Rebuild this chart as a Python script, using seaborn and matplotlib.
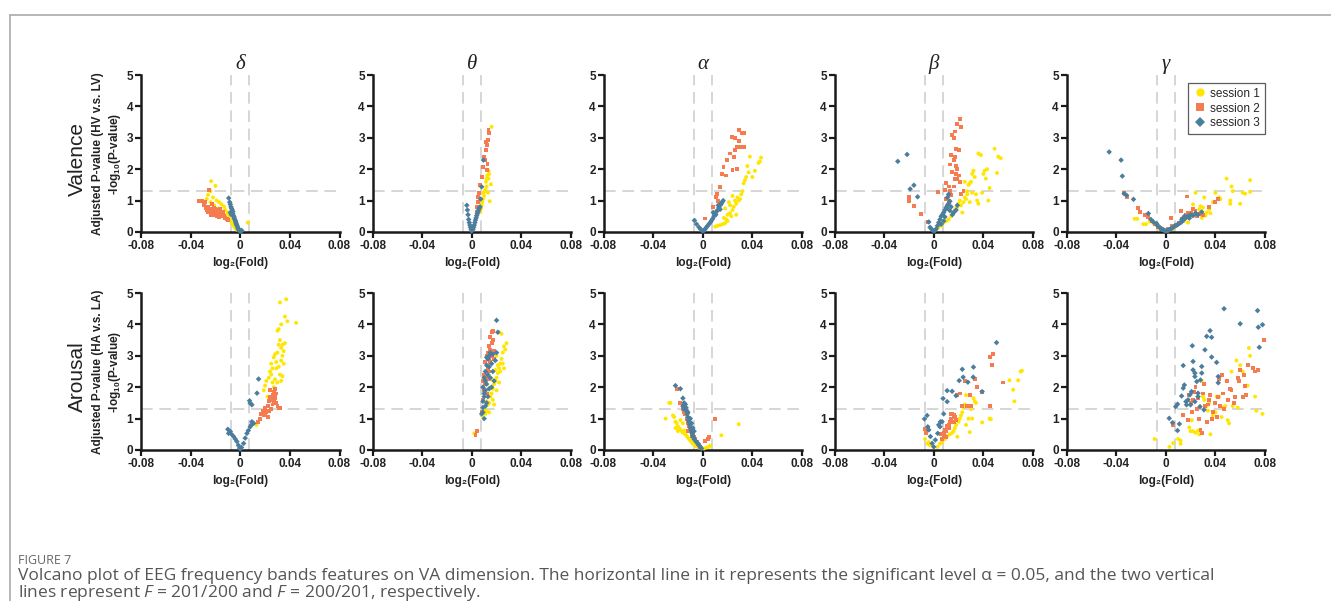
import numpy as np
import pandas as pd
import matplotlib.pyplot as plt
from matplotlib.lines import Line2D
import seaborn as sns

# ---- data: (log2 fold, -log10 p) ----
BANDS = ["δ", "θ", "α", "β", "γ"]
DIMS = ["Valence", "Arousal"]
SESSIONS = ["session 1", "session 2", "session 3"]
COLORS = ["#FFE600", "#F47C50", "#4B7D9C"]

VAL_DELTA_S1 = [(-0.0235, 1.62), (-0.020, 1.47), (-0.024, 1.30), (-0.026, 1.18), (-0.022, 1.10), (-0.019, 1.00),
                (-0.017, 0.95), (-0.015, 0.88), (-0.013, 0.80), (-0.024, 0.95), (-0.027, 1.05), (-0.012, 0.70),
                (-0.010, 0.62), (-0.011, 0.55), (-0.009, 0.45), (-0.008, 0.40), (-0.007, 0.30), (-0.006, 0.25),
                (-0.005, 0.18), (-0.004, 0.12), (-0.016, 0.62), (-0.014, 0.55), (-0.018, 0.75), (-0.021, 0.85),
                (0.006, 0.30), (-0.003, 0.08), (-0.009, 0.55), (-0.012, 0.48)]
VAL_DELTA_S2 = [(-0.033, 1.00), (-0.031, 0.98), (-0.025, 1.35), (-0.029, 0.85), (-0.028, 0.75), (-0.027, 0.70),
                (-0.026, 0.80), (-0.025, 0.65), (-0.024, 0.72), (-0.023, 0.60), (-0.022, 0.68), (-0.021, 0.55),
                (-0.020, 0.62), (-0.019, 0.70), (-0.018, 0.58), (-0.017, 0.65), (-0.016, 0.52), (-0.015, 0.60),
                (-0.014, 0.55), (-0.013, 0.50), (-0.012, 0.45), (-0.023, 0.90), (-0.021, 0.78), (-0.019, 0.50),
                (-0.017, 0.48), (-0.024, 0.55), (-0.020, 0.72), (-0.018, 0.66), (-0.022, 0.58), (-0.026, 0.62),
                (-0.028, 0.95), (-0.016, 0.72), (-0.014, 0.65), (-0.011, 0.40), (-0.010, 0.38)]
VAL_DELTA_S3 = [(-0.0093, 1.08), (-0.0085, 0.95), (-0.008, 0.88), (-0.0075, 0.80), (-0.007, 0.75), (-0.0065, 0.70),
                (-0.006, 0.65), (-0.006, 0.58), (-0.0055, 0.52), (-0.005, 0.48), (-0.0048, 0.44), (-0.0045, 0.40),
                (-0.004, 0.36), (-0.0037, 0.32), (-0.0033, 0.28), (-0.003, 0.24), (-0.0026, 0.20), (-0.0022, 0.16),
                (-0.0018, 0.12), (-0.0014, 0.09), (-0.001, 0.06), (-0.0005, 0.04), (0.0, 0.02), (0.0008, 0.03),
                (0.0012, 0.05), (-0.008, 0.62), (-0.0072, 0.55)]

VAL_THETA_S1 = [(0.016, 3.35), (0.014, 1.85), (0.0125, 1.80), (0.0135, 1.70), (0.0115, 1.60), (0.012, 1.45),
                (0.0155, 1.52), (0.011, 1.35), (0.0095, 1.25), (0.010, 1.15), (0.009, 1.05), (0.0085, 0.95),
                (0.008, 0.85), (0.0145, 0.98), (0.013, 1.25), (0.0105, 1.30), (0.0075, 0.75), (0.007, 0.65),
                (0.012, 1.70), (0.0135, 1.95)]
VAL_THETA_S2 = [(0.004, 0.80), (0.0054, 1.12), (0.0067, 1.49), (0.008, 1.75), (0.0094, 2.07), (0.010, 2.40),
                (0.0113, 2.60), (0.012, 2.77), (0.013, 2.93), (0.0137, 3.14), (0.0135, 3.24), (0.0113, 2.87),
                (0.012, 1.97), (0.011, 2.29), (0.0127, 2.18), (0.005, 0.95), (0.006, 1.25), (0.0045, 0.65)]
VAL_THETA_S3 = [(-0.004, 0.85), (-0.0035, 0.70), (-0.003, 0.55), (-0.0025, 0.40), (-0.002, 0.30), (-0.0015, 0.22),
                (-0.001, 0.15), (-0.0005, 0.08), (0.0, 0.03), (0.001, 0.08), (0.0015, 0.15), (0.002, 0.22),
                (0.0025, 0.30), (0.003, 0.38), (0.0035, 0.45), (0.004, 0.52), (0.0045, 0.58), (0.005, 0.64),
                (0.0055, 0.70), (0.006, 0.76), (0.0067, 0.80), (0.008, 1.44), (0.0094, 2.29), (0.0072, 1.05)]

VAL_ALPHA_S1 = [(0.010, 0.17), (0.012, 0.20), (0.014, 0.22), (0.016, 0.25), (0.018, 0.28), (0.020, 0.35),
                (0.017, 0.45), (0.020, 0.55), (0.022, 0.60), (0.024, 0.70), (0.022, 0.85), (0.025, 0.80),
                (0.027, 0.90), (0.026, 1.00), (0.028, 1.10), (0.030, 1.05), (0.031, 1.20), (0.032, 1.30),
                (0.029, 1.00), (0.033, 1.55), (0.035, 1.75), (0.037, 1.90), (0.034, 1.65), (0.036, 2.10),
                (0.038, 2.40), (0.040, 1.75), (0.042, 1.95), (0.045, 2.20), (0.047, 2.37), (0.046, 2.25),
                (0.023, 0.50), (0.019, 0.40), (0.018, 0.75), (0.021, 0.95), (0.024, 1.15), (0.027, 0.55)]
VAL_ALPHA_S2 = [(0.002, 0.43), (0.0086, 0.80), (0.0113, 1.22), (0.014, 1.44), (0.0154, 1.86), (0.0167, 2.07),
                (0.0194, 2.29), (0.022, 2.50), (0.0234, 3.03), (0.026, 2.98), (0.0275, 2.71), (0.029, 3.24),
                (0.030, 2.71), (0.0315, 3.14), (0.033, 3.16), (0.024, 1.97), (0.0275, 2.00), (0.019, 1.80),
                (0.033, 2.71), (0.026, 2.60), (0.025, 2.40), (0.029, 2.90), (0.012, 1.00), (0.0105, 1.10)]
VAL_ALPHA_S3 = [(-0.0067, 0.37), (-0.005, 0.25), (-0.003, 0.15), (-0.0015, 0.08), (0.0, 0.03), (0.001, 0.05),
                (0.002, 0.10), (0.003, 0.15), (0.004, 0.20), (0.005, 0.25), (0.006, 0.30), (0.007, 0.36),
                (0.008, 0.42), (0.009, 0.50), (0.0095, 0.55), (0.010, 0.60), (0.011, 0.65), (0.012, 0.70),
                (0.013, 0.78), (0.014, 0.85), (0.015, 0.90), (0.0165, 1.00), (0.0155, 0.95), (0.0105, 0.55),
                (0.0085, 0.62), (0.0125, 0.85), (0.014, 0.72)]

VAL_BETA_S1 = [(0.004, 0.15), (0.006, 0.20), (0.008, 0.30), (0.010, 0.35), (0.012, 0.40), (0.014, 0.50),
               (0.016, 0.60), (0.017, 0.70), (0.018, 0.75), (0.019, 0.80), (0.020, 0.90), (0.021, 1.00),
               (0.022, 0.85), (0.023, 0.62), (0.024, 0.95), (0.025, 1.10), (0.026, 1.05), (0.027, 1.20),
               (0.028, 1.50), (0.029, 1.55), (0.030, 1.60), (0.031, 1.85), (0.032, 1.95), (0.033, 1.75),
               (0.034, 1.20), (0.035, 1.00), (0.036, 0.90), (0.036, 2.50), (0.038, 2.45), (0.039, 1.25),
               (0.040, 1.85), (0.041, 1.95), (0.042, 1.70), (0.043, 2.00), (0.044, 1.00), (0.045, 1.40),
               (0.049, 2.65), (0.051, 1.88), (0.052, 2.40), (0.054, 2.35), (0.029, 0.95), (0.031, 1.25),
               (0.025, 1.60), (0.027, 1.30)]
VAL_BETA_S2 = [(-0.020, 1.12), (-0.020, 0.98), (-0.016, 0.82), (-0.010, 0.58), (-0.0046, 0.32), (0.0032, 1.28),
               (0.009, 1.35), (0.010, 1.55), (0.012, 1.45), (0.013, 1.30), (0.014, 1.18), (0.015, 1.90),
               (0.016, 2.30), (0.017, 2.40), (0.018, 2.10), (0.019, 2.00), (0.020, 2.60), (0.018, 2.65),
               (0.017, 1.70), (0.019, 1.70), (0.021, 1.60), (0.022, 1.20), (0.016, 3.00), (0.017, 3.20),
               (0.019, 3.45), (0.021, 3.60), (0.022, 3.35), (0.015, 3.10), (0.024, 1.30), (0.013, 2.15),
               (0.012, 1.00), (0.020, 1.80), (0.018, 1.85), (0.016, 1.45), (0.014, 2.45), (0.010, 1.05)]
VAL_BETA_S3 = [(-0.029, 2.25), (-0.0215, 2.47), (-0.016, 1.49), (-0.019, 1.37), (-0.013, 1.12), (-0.004, 0.32),
               (-0.003, 0.15), (-0.002, 0.10), (0.0, 0.03), (0.001, 0.05), (0.002, 0.10), (0.003, 0.20),
               (0.004, 0.30), (0.005, 0.40), (0.006, 0.50), (0.007, 0.55), (0.008, 0.62), (0.009, 0.70),
               (0.010, 0.78), (0.011, 0.85), (0.012, 0.90), (0.013, 0.98), (0.011, 1.10), (0.012, 1.20),
               (0.0105, 0.75), (0.014, 0.80), (0.016, 0.62), (0.018, 0.70), (0.019, 0.85), (0.015, 0.55),
               (0.008, 0.35), (0.006, 0.25), (0.009, 0.48), (0.013, 0.68)]

VAL_GAMMA_S1 = [(-0.025, 0.42), (-0.023, 0.42), (-0.018, 0.25), (-0.016, 0.25), (-0.013, 0.33), (-0.010, 0.28),
                (-0.005, 0.10), (0.002, 0.05), (0.006, 0.10), (0.008, 0.22), (0.012, 0.30), (0.015, 0.35),
                (0.018, 0.30), (0.020, 0.50), (0.022, 0.88), (0.024, 1.25), (0.025, 0.55), (0.027, 0.72),
                (0.028, 0.82), (0.030, 0.78), (0.031, 1.10), (0.033, 0.62), (0.035, 0.72), (0.038, 0.95),
                (0.040, 1.25), (0.043, 1.10), (0.044, 1.05), (0.049, 1.70), (0.052, 0.90), (0.053, 1.45),
                (0.054, 1.30), (0.052, 1.00), (0.060, 0.90), (0.062, 1.25), (0.064, 1.22), (0.068, 1.65),
                (0.068, 1.28), (0.036, 0.60), (0.029, 0.45), (0.032, 0.52)]
VAL_GAMMA_S2 = [(-0.034, 1.25), (-0.031, 1.10), (-0.022, 0.75), (-0.021, 0.65), (-0.017, 0.55), (-0.014, 0.48),
                (-0.011, 0.35), (-0.009, 0.25), (-0.006, 0.15), (-0.004, 0.10), (-0.002, 0.08), (0.002, 0.10),
                (0.004, 0.45), (0.005, 0.20), (0.008, 0.22), (0.011, 0.30), (0.013, 0.40), (0.016, 0.55),
                (0.018, 0.60), (0.020, 0.62), (0.022, 0.72), (0.024, 0.68), (0.027, 0.58), (0.030, 0.55),
                (0.035, 0.80), (0.040, 0.95), (0.042, 1.05), (0.017, 1.13), (0.012, 0.68), (0.025, 0.50)]
VAL_GAMMA_S3 = [(-0.0456, 2.55), (-0.036, 2.29), (-0.035, 1.78), (-0.0335, 1.22), (-0.0316, 1.17), (-0.026, 1.04),
                (-0.014, 0.59), (-0.0074, 0.27), (-0.007, 0.22), (-0.006, 0.18), (-0.005, 0.15), (-0.004, 0.12),
                (-0.003, 0.09), (-0.002, 0.07), (-0.001, 0.05), (0.0, 0.03), (0.001, 0.04), (0.002, 0.06),
                (0.003, 0.08), (0.004, 0.10), (0.005, 0.12), (0.006, 0.15), (0.007, 0.18), (0.008, 0.20),
                (0.009, 0.22), (0.010, 0.25), (0.011, 0.28), (0.012, 0.30), (0.013, 0.33), (0.014, 0.38),
                (0.015, 0.42), (0.016, 0.45), (0.017, 0.48), (0.018, 0.50), (0.019, 0.44), (0.020, 0.55),
                (0.022, 0.52), (0.024, 0.60), (0.026, 0.55), (0.029, 0.64), (0.015, 0.50), (0.013, 0.40),
                (-0.012, 0.40), (-0.010, 0.32)]

ARO_DELTA_S1 = [(0.013, 0.80), (0.019, 1.90), (0.020, 2.05), (0.021, 2.20), (0.022, 1.70), (0.023, 2.30),
                (0.024, 2.50), (0.025, 2.75), (0.026, 2.60), (0.027, 2.95), (0.028, 3.05), (0.029, 2.80),
                (0.030, 3.10), (0.031, 3.35), (0.032, 3.50), (0.033, 3.25), (0.034, 3.35), (0.031, 2.65),
                (0.029, 2.60), (0.032, 2.40), (0.033, 2.20), (0.034, 2.35), (0.035, 2.75), (0.030, 3.80),
                (0.031, 3.85), (0.033, 4.00), (0.032, 4.70), (0.037, 4.80), (0.036, 4.25), (0.038, 4.10),
                (0.045, 4.05), (0.028, 2.25), (0.027, 2.00), (0.030, 2.15), (0.034, 3.00), (0.035, 3.15),
                (0.036, 3.40), (0.025, 2.40), (0.026, 2.15), (0.033, 2.85)]
ARO_DELTA_S2 = [(0.014, 0.88), (0.016, 1.00), (0.017, 1.15), (0.018, 1.25), (0.019, 1.10), (0.020, 1.35),
                (0.021, 1.20), (0.022, 1.40), (0.023, 1.55), (0.024, 1.70), (0.025, 1.60), (0.026, 1.75),
                (0.027, 1.85), (0.028, 1.65), (0.029, 1.50), (0.030, 1.40), (0.031, 1.35), (0.026, 1.45),
                (0.024, 1.90), (0.027, 1.55), (0.022, 1.05), (0.025, 1.30), (0.028, 1.95), (0.029, 1.80),
                (0.023, 1.25), (0.020, 1.15), (0.032, 1.35), (0.026, 1.65), (0.024, 1.60), (0.028, 1.70)]
ARO_DELTA_S3 = [(-0.010, 0.66), (-0.0094, 0.53), (-0.008, 0.59), (-0.007, 0.50), (-0.0054, 0.43), (-0.004, 0.35),
                (-0.0027, 0.27), (-0.0015, 0.15), (-0.0005, 0.06), (0.0, 0.03), (0.001, 0.08), (0.0027, 0.21),
                (0.004, 0.38), (0.0054, 0.53), (0.0065, 0.62), (0.008, 0.74), (0.0094, 0.90), (0.0108, 0.85),
                (0.008, 1.49), (0.0094, 1.44), (0.0075, 1.57), (0.0148, 2.26), (0.0135, 1.81), (0.009, 0.80)]

ARO_THETA_S1 = [(0.002, 0.53), (0.008, 1.10), (0.009, 1.20), (0.010, 1.30), (0.012, 1.25), (0.013, 1.45),
                (0.014, 1.50), (0.015, 1.70), (0.016, 1.80), (0.017, 1.95), (0.018, 2.10), (0.019, 2.20),
                (0.020, 2.30), (0.021, 2.45), (0.022, 2.60), (0.023, 2.75), (0.024, 2.90), (0.025, 3.10),
                (0.026, 3.30), (0.027, 3.20), (0.028, 3.40), (0.022, 3.75), (0.024, 3.70), (0.020, 3.00),
                (0.021, 2.70), (0.023, 2.50), (0.019, 2.55), (0.017, 1.60), (0.018, 1.45), (0.016, 2.25),
                (0.015, 2.00), (0.014, 1.20), (0.011, 1.15), (0.013, 1.80), (0.025, 2.75), (0.022, 2.15),
                (0.026, 2.60), (0.020, 1.90), (0.012, 1.55)]
ARO_THETA_S2 = [(0.003, 0.48), (0.004, 0.60), (0.008, 1.20), (0.009, 1.60), (0.010, 1.90), (0.011, 2.10),
                (0.012, 2.35), (0.013, 2.60), (0.014, 2.90), (0.015, 3.20), (0.016, 3.40), (0.017, 3.80),
                (0.016, 3.75), (0.012, 3.00), (0.013, 3.10), (0.014, 3.30), (0.015, 2.80), (0.016, 3.00),
                (0.018, 3.15), (0.017, 3.50), (0.011, 2.80), (0.010, 2.40), (0.009, 2.20), (0.012, 1.80),
                (0.013, 2.25), (0.014, 2.50), (0.015, 3.60), (0.018, 2.90)]
ARO_THETA_S3 = [(0.008, 1.15), (0.009, 1.20), (0.010, 1.00), (0.011, 1.40), (0.009, 1.55), (0.010, 1.70),
                (0.011, 1.90), (0.012, 2.10), (0.009, 2.00), (0.010, 2.30), (0.011, 2.50), (0.012, 2.70),
                (0.013, 2.90), (0.014, 3.00), (0.015, 3.10), (0.016, 2.75), (0.017, 2.50), (0.018, 2.20),
                (0.019, 2.85), (0.020, 3.10), (0.021, 3.75), (0.020, 4.13), (0.013, 2.40), (0.014, 2.65),
                (0.012, 2.95), (0.015, 2.30), (0.016, 2.00), (0.011, 2.20), (0.010, 1.80), (0.013, 1.70),
                (0.017, 3.05), (0.014, 1.95), (0.009, 1.35), (0.012, 1.50)]

ARO_ALPHA_S1 = [(-0.030, 1.00), (-0.027, 1.50), (-0.026, 1.50), (-0.024, 1.10), (-0.023, 1.05), (-0.022, 0.90),
                (-0.021, 0.85), (-0.020, 0.75), (-0.019, 0.70), (-0.018, 0.65), (-0.017, 0.60), (-0.016, 0.55),
                (-0.015, 0.62), (-0.014, 0.50), (-0.013, 0.45), (-0.012, 0.40), (-0.011, 0.35), (-0.010, 0.30),
                (-0.009, 0.25), (-0.008, 0.20), (-0.007, 0.18), (-0.006, 0.14), (-0.005, 0.12), (-0.004, 0.10),
                (-0.003, 0.08), (0.001, 0.05), (0.003, 0.08), (0.005, 0.10), (0.006, 0.14), (0.015, 0.47),
                (0.029, 0.82), (-0.018, 0.95), (-0.016, 0.85), (-0.020, 0.60), (-0.022, 0.70)]
ARO_ALPHA_S2 = [(-0.021, 1.95), (-0.018, 1.50), (-0.016, 1.30), (-0.015, 1.20), (-0.014, 1.15), (-0.013, 1.00),
                (-0.012, 0.85), (-0.011, 0.75), (-0.010, 0.65), (-0.009, 0.55), (-0.008, 0.50), (-0.007, 0.40),
                (-0.006, 0.35), (-0.005, 0.25), (-0.004, 0.20), (-0.003, 0.15), (-0.002, 0.10), (0.002, 0.30),
                (0.004, 0.35), (0.005, 0.40), (0.010, 1.00), (-0.012, 0.60), (-0.009, 0.45)]
ARO_ALPHA_S3 = [(-0.022, 2.05), (-0.018, 1.95), (-0.016, 1.65), (-0.015, 1.50), (-0.014, 1.45), (-0.0135, 1.35),
                (-0.013, 1.25), (-0.0125, 1.15), (-0.012, 1.05), (-0.0115, 0.95), (-0.011, 0.88), (-0.0105, 0.80),
                (-0.010, 0.72), (-0.0095, 0.65), (-0.009, 0.58), (-0.0085, 0.52), (-0.008, 0.45), (-0.0075, 0.40),
                (-0.007, 0.35), (-0.006, 0.30), (-0.005, 0.25), (-0.004, 0.20), (-0.003, 0.15), (-0.002, 0.10),
                (-0.001, 0.05), (-0.016, 1.40), (-0.015, 1.30), (-0.012, 1.20), (-0.010, 1.00), (-0.009, 0.85),
                (-0.008, 0.70), (-0.007, 0.60)]

ARO_BETA_S1 = [(-0.007, 0.35), (-0.005, 0.20), (-0.003, 0.15), (-0.004, 0.25), (0.003, 0.10), (0.005, 0.20),
               (0.007, 0.25), (0.009, 0.35), (0.011, 0.45), (0.013, 0.50), (0.015, 0.55), (0.016, 0.60),
               (0.017, 0.70), (0.018, 0.80), (0.019, 0.42), (0.020, 0.90), (0.021, 1.00), (0.022, 1.10),
               (0.023, 1.20), (0.024, 1.35), (0.026, 1.75), (0.028, 1.00), (0.029, 0.57), (0.030, 1.30),
               (0.031, 1.00), (0.033, 1.55), (0.034, 1.50), (0.039, 0.88), (0.045, 1.00), (0.046, 0.98),
               (0.061, 2.22), (0.064, 1.92), (0.065, 1.55), (0.068, 2.22), (0.070, 2.50), (0.071, 2.52),
               (0.032, 1.65), (0.026, 0.80), (0.025, 1.45)]
ARO_BETA_S2 = [(-0.0067, 0.66), (-0.006, 0.55), (0.006, 0.50), (0.008, 0.55), (0.009, 0.65), (0.010, 0.60),
               (0.011, 0.75), (0.012, 0.80), (0.013, 0.90), (0.014, 1.00), (0.015, 1.15), (0.016, 1.10),
               (0.017, 1.05), (0.018, 0.95), (0.019, 1.75), (0.021, 1.80), (0.023, 1.40), (0.025, 2.20),
               (0.027, 1.40), (0.029, 1.75), (0.030, 1.40), (0.033, 2.25), (0.035, 2.00), (0.039, 1.85),
               (0.045, 1.40), (0.045, 2.95), (0.047, 2.70), (0.048, 3.05), (0.056, 2.15), (0.014, 1.15),
               (0.012, 0.70), (0.010, 0.40), (0.007, 0.35), (0.008, 0.45), (0.016, 0.90), (-0.005, 0.70)]
ARO_BETA_S3 = [(-0.0075, 0.99), (-0.0054, 1.10), (-0.0048, 0.74), (-0.004, 0.64), (-0.0027, 0.43), (-0.0013, 0.21),
               (0.0, 0.10), (0.0013, 0.32), (0.0032, 0.53), (0.004, 0.80), (0.005, 0.74), (0.0054, 0.90),
               (0.0067, 0.90), (0.008, 1.15), (0.0075, 1.64), (0.0108, 1.54), (0.0108, 1.89), (0.0148, 1.87),
               (0.018, 1.73), (0.0205, 2.21), (0.0237, 2.32), (0.023, 2.57), (0.0275, 2.16), (0.0318, 2.32),
               (0.032, 2.64), (0.039, 1.86), (0.0506, 3.42)]

ARO_GAMMA_S1 = [(-0.009, 0.35), (0.003, 0.10), (0.006, 0.22), (0.010, 0.35), (0.012, 0.30), (0.012, 0.20),
                (0.019, 0.72), (0.020, 0.60), (0.021, 0.95), (0.022, 0.60), (0.024, 0.55), (0.026, 0.62),
                (0.027, 0.50), (0.029, 2.20), (0.030, 1.70), (0.031, 1.60), (0.033, 1.40), (0.035, 1.50),
                (0.036, 0.50), (0.038, 1.10), (0.040, 1.20), (0.041, 1.70), (0.043, 1.70), (0.045, 1.05),
                (0.048, 1.40), (0.049, 2.20), (0.050, 0.95), (0.051, 0.85), (0.053, 2.50), (0.054, 1.40),
                (0.057, 2.85), (0.058, 1.35), (0.060, 2.70), (0.062, 2.50), (0.066, 2.05), (0.067, 3.25),
                (0.068, 3.00), (0.072, 1.70), (0.073, 1.25), (0.078, 1.15), (0.034, 1.25), (0.046, 1.35)]
ARO_GAMMA_S2 = [(0.006, 0.80), (0.014, 1.10), (0.018, 0.95), (0.019, 1.75), (0.020, 1.50), (0.022, 1.60),
                (0.023, 1.85), (0.024, 2.00), (0.025, 1.30), (0.027, 1.00), (0.028, 0.65), (0.029, 0.55),
                (0.030, 1.80), (0.031, 2.10), (0.032, 1.40), (0.033, 0.90), (0.035, 1.60), (0.036, 1.75),
                (0.037, 1.00), (0.038, 1.20), (0.040, 1.50), (0.042, 1.70), (0.043, 2.25), (0.045, 2.40),
                (0.046, 1.80), (0.047, 1.30), (0.049, 2.20), (0.050, 1.60), (0.052, 1.95), (0.053, 1.90),
                (0.055, 1.50), (0.056, 1.70), (0.058, 2.30), (0.059, 2.20), (0.060, 2.55), (0.062, 1.70),
                (0.063, 2.40), (0.064, 2.05), (0.065, 1.75), (0.066, 2.70), (0.070, 2.60), (0.072, 2.50),
                (0.074, 2.55), (0.079, 3.50), (0.021, 1.20), (0.026, 1.65), (0.034, 1.45), (0.041, 1.05),
                (0.044, 1.40)]
ARO_GAMMA_S3 = [(0.0028, 1.01), (0.0055, 0.87), (0.0095, 0.62), (0.011, 0.83), (0.008, 1.38), (0.0095, 1.46),
                (0.0128, 1.72), (0.0141, 2.69), (0.0141, 1.97), (0.015, 2.07), (0.0163, 1.54), (0.018, 1.60),
                (0.0168, 1.44), (0.0195, 1.76), (0.0208, 1.86), (0.0214, 3.32), (0.022, 2.82), (0.022, 2.55),
                (0.0235, 2.45), (0.0235, 2.34), (0.025, 2.18), (0.026, 1.81), (0.029, 2.45), (0.029, 2.66),
                (0.028, 2.23), (0.0276, 1.38), (0.0316, 3.19), (0.033, 3.62), (0.0357, 3.80), (0.037, 3.59),
                (0.037, 2.96), (0.041, 2.79), (0.0423, 2.34), (0.0423, 2.14), (0.047, 4.50), (0.060, 4.02),
                (0.074, 4.44), (0.0746, 3.91), (0.078, 3.99), (0.0754, 3.27), (0.0308, 1.28), (0.0235, 1.54),
                (0.020, 1.44), (0.026, 1.70)]

PANEL_DATA = {
    ("Valence", "δ"): [VAL_DELTA_S1, VAL_DELTA_S2, VAL_DELTA_S3],
    ("Valence", "θ"): [VAL_THETA_S1, VAL_THETA_S2, VAL_THETA_S3],
    ("Valence", "α"): [VAL_ALPHA_S1, VAL_ALPHA_S2, VAL_ALPHA_S3],
    ("Valence", "β"): [VAL_BETA_S1, VAL_BETA_S2, VAL_BETA_S3],
    ("Valence", "γ"): [VAL_GAMMA_S1, VAL_GAMMA_S2, VAL_GAMMA_S3],
    ("Arousal", "δ"): [ARO_DELTA_S1, ARO_DELTA_S2, ARO_DELTA_S3],
    ("Arousal", "θ"): [ARO_THETA_S1, ARO_THETA_S2, ARO_THETA_S3],
    ("Arousal", "α"): [ARO_ALPHA_S1, ARO_ALPHA_S2, ARO_ALPHA_S3],
    ("Arousal", "β"): [ARO_BETA_S1, ARO_BETA_S2, ARO_BETA_S3],
    ("Arousal", "γ"): [ARO_GAMMA_S1, ARO_GAMMA_S2, ARO_GAMMA_S3],
}

YLABELS = {"Valence": "Adjusted P-value (HV v.s. LV)\n-log$_{\\mathbf{10}}$(P-value)",
           "Arousal": "Adjusted P-value (HA v.s. LA)\n-log$_{\\mathbf{10}}$(P-value)"}
XTICKS = [-0.08, -0.04, 0, 0.04, 0.08]
XTICKLABELS = ["-0.08", "-0.04", "0", "0.04", "0.08"]
YTICKS = [0, 1, 2, 3, 4, 5]

FC_LINE = np.log2(201 / 200)
P_LINE = -np.log10(0.05)

rows = []
for (dim, band), series in PANEL_DATA.items():
    for sess, pts in zip(SESSIONS, series):
        for fx, py in pts:
            rows.append({"dim": dim, "band": band, "session": sess, "fold": fx, "logp": py})
df = pd.DataFrame(rows)

sns.set_style("ticks")
plt.rcParams["font.family"] = ["Liberation Sans", "DejaVu Sans"]
plt.rcParams["mathtext.fontset"] = "custom"
plt.rcParams["mathtext.rm"] = "Liberation Sans"
plt.rcParams["mathtext.bf"] = "Liberation Sans:bold"
plt.rcParams["mathtext.it"] = "Open Sans:italic"

W, H = 1331, 601
fig = plt.figure(figsize=(W / 100, H / 100), dpi=100)

lefts = [141, 372.5, 603.5, 834.5, 1066.5]
tops = [75, 293]
aw, ah = 198.5, 157

palette = dict(zip(SESSIONS, COLORS))
markers = {"session 1": "o", "session 2": "s", "session 3": "D"}

for r, dim in enumerate(DIMS):
    for c, band in enumerate(BANDS):
        ax = fig.add_axes([lefts[c] / W, 1 - (tops[r] + ah) / H, aw / W, ah / H])
        sub = df[(df.dim == dim) & (df.band == band)]
        ax.axvline(-FC_LINE, color="#cfcfcf", lw=1.2, dashes=(7, 4), zorder=1)
        ax.axvline(FC_LINE, color="#cfcfcf", lw=1.2, dashes=(7, 4), zorder=1)
        ax.axhline(P_LINE, color="#cfcfcf", lw=1.2, dashes=(7, 4), zorder=1)
        sns.scatterplot(data=sub, x="fold", y="logp", hue="session", style="session",
                        palette=palette, markers=markers, hue_order=SESSIONS,
                        s=8, linewidth=0, legend=False, ax=ax, zorder=3, clip_on=False)
        ax.set_xlim(-0.08, 0.08)
        ax.set_ylim(0, 5)
        ax.set_xticks(XTICKS)
        ax.set_xticklabels(XTICKLABELS)
        ax.set_yticks(YTICKS)
        for sp in ["top", "right"]:
            ax.spines[sp].set_visible(False)
        for sp in ["left", "bottom"]:
            ax.spines[sp].set_linewidth(1.8)
            ax.spines[sp].set_color("#1a1a1a")
        ax.tick_params(direction="out", length=4, width=1.6, color="#1a1a1a", pad=1.5,
                       labelsize=8.5, labelcolor="#222222")
        for lab in ax.get_xticklabels() + ax.get_yticklabels():
            lab.set_fontweight("bold")
        ax.set_xlabel("log₂(Fold)", fontsize=8.5, fontweight="bold", color="#222222", labelpad=4)
        if c == 0:
            ax.set_ylabel(YLABELS[dim], fontsize=8.5, fontweight="bold", color="#222222",
                          labelpad=3, linespacing=1.25)
            fig.text(77 / W, 1 - (tops[r] + ah / 2 + 5) / H, dim, rotation=90, fontsize=15,
                     ha="center", va="center", color="#222222")
        else:
            ax.set_ylabel("")
        if r == 0:
            ax.set_title(band, fontsize=15, fontstyle="italic",
                         family=["Liberation Serif", "DejaVu Serif"], pad=4, color="#222222")
        if r == 0 and c == 4:
            handles = [Line2D([], [], ls="", marker=markers[s], color=palette[s], markersize=m, mew=0)
                       for s, m in zip(SESSIONS, [6, 5.5, 5])]
            leg = ax.legend(handles, SESSIONS, loc="upper right", bbox_to_anchor=(1.0, 0.95),
                            frameon=True, fancybox=False, fontsize=8.5, handletextpad=0.3,
                            borderpad=0.4, labelspacing=0.25, handlelength=1.2, borderaxespad=0)
            leg.get_frame().set_edgecolor("#333333")
            leg.get_frame().set_linewidth(0.9)

# page frame
fig.add_artist(Line2D([10 / W, 1], [1 - 15 / H, 1 - 15 / H], color="#aaaaaa", lw=1.2))
fig.add_artist(Line2D([10 / W, 10 / W], [1 - 15 / H, 0], color="#aaaaaa", lw=1.2))

# caption
fig.text(18 / W, 1 - 561 / H, "FIGURE 7", fontsize=9, color="#666666", va="center",
         family=["Open Sans", "DejaVu Sans"])
fig.text(18 / W, 1 - 576 / H,
         "Volcano plot of EEG frequency bands features on VA dimension. The horizontal line in it represents "
         "the significant level α = 0.05, and the two vertical",
         fontsize=12.5, color="#555555", va="center", family=["Open Sans", "DejaVu Sans"])
fig.text(18 / W, 1 - 593 / H,
         "lines represent $\\mathit{F}$ = 201/200 and $\\mathit{F}$ = 200/201, respectively.",
         fontsize=12.5, color="#555555", va="center", family=["Open Sans", "DejaVu Sans"])

fig.savefig("out.png", dpi=100)
